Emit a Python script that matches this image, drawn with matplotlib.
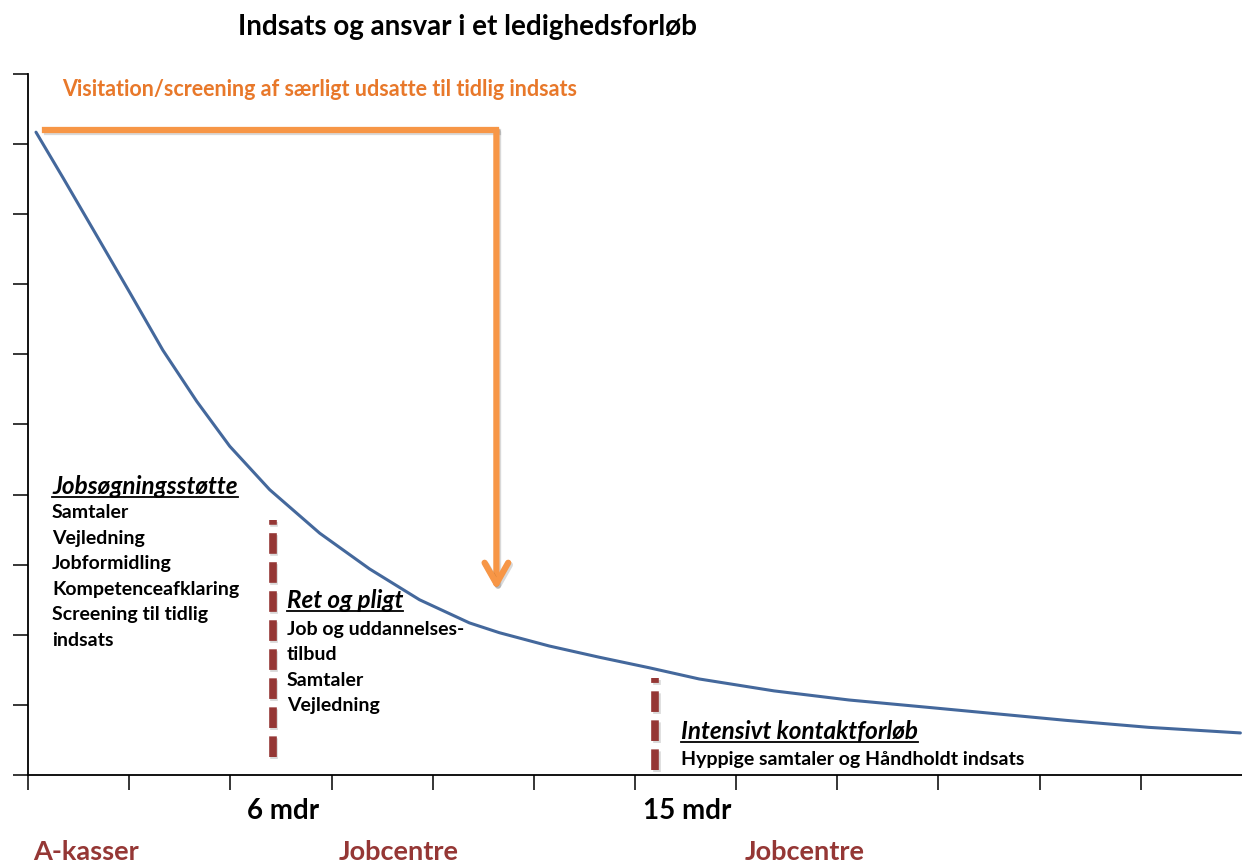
import matplotlib

matplotlib.use("Agg")
import matplotlib.pyplot as plt  # noqa: E402
import matplotlib.patheffects as pe  # noqa: E402
from matplotlib.lines import Line2D  # noqa: E402

W, H = 1242, 864
FONT = ["Lato", "DejaVu Sans"]

# indsatskurve over ledighedsforløbet (x: tid, y: indsats)
curve_x = [0.079, 0.346, 0.681, 1.007, 1.333, 1.668, 1.994, 2.389, 2.883, 3.376,
           3.870, 4.363, 4.659, 5.153, 5.647, 6.140, 6.634, 7.374, 8.115, 8.934,
           9.595, 10.257, 11.076, 11.984]
curve_y = [9.17, 8.52, 7.69, 6.88, 6.06, 5.33, 4.69, 4.07, 3.45, 2.94,
           2.50, 2.17, 2.03, 1.84, 1.68, 1.53, 1.37, 1.20, 1.07, 0.96,
           0.87, 0.78, 0.68, 0.60]

# visitation/screening: vandret streg og pil ned mod kurven
visit_x = [0.17, 4.63]
visit_y = 9.2
visit_arrow_end = 2.64

# faseskel (6 og 15 mdr)
split_x = [2.42, 6.2]
split_top = [3.64, 1.38]
split_bottom = [0.26, 0.07]

phase_heads = ["Jobsøgningsstøtte", "Ret og pligt", "Intensivt kontaktforløb"]
phase_items = [
    ["Samtaler", "Vejledning", "Jobformidling", "Kompetenceafklaring",
     "Screening til tidlig", "indsats"],
    ["Job og uddannelses-", "tilbud", "Samtaler", "Vejledning"],
    ["Hyppige samtaler og Håndholdt indsats"],
]
month_labels = ["6 mdr", "15 mdr"]
actors = ["A-kasser", "Jobcentre", "Jobcentre"]

BLUE = "#44689c"
ORANGE = "#f79646"
ORANGE_TXT = "#e8782a"
RED = "#953735"


def px(x, y):
    return x / W, 1 - y / H


shadow = [pe.SimpleLineShadow(offset=(1.2, -1.5), alpha=0.15), pe.Normal()]

fig = plt.figure(figsize=(W / 100, H / 100), dpi=100)
ax = fig.add_axes([28 / W, (H - 775) / H, (W - 28) / W, (775 - 74) / H])
ax.set_xlim(0, 12)
ax.set_ylim(0, 10)
for s in ["top", "right"]:
    ax.spines[s].set_visible(False)
for s in ["left", "bottom"]:
    ax.spines[s].set_linewidth(1.3)
ax.set_xticks(range(12))
ax.set_yticks(range(11))
ax.tick_params(direction="out", length=11, width=1.1, labelleft=False, labelbottom=False)

ax.plot(curve_x, curve_y, color=BLUE, lw=2.2, solid_capstyle="round",
        solid_joinstyle="round", clip_on=False)

ax.plot(visit_x, [visit_y, visit_y], color=ORANGE, lw=4.5,
        solid_capstyle="projecting", path_effects=shadow)
ax.annotate("", xy=(visit_x[1], visit_arrow_end), xytext=(visit_x[1], visit_y),
            arrowprops=dict(arrowstyle="->,head_length=1.5,head_width=0.85",
                            color=ORANGE, lw=4.5, shrinkA=0, shrinkB=0,
                            path_effects=shadow))

for x, top, bot in zip(split_x, split_top, split_bottom):
    ax.plot([x, x], [bot, top], color=RED, lw=5.5, ls=(0, (2.7, 1.1)),
            dash_capstyle="butt", path_effects=shadow)

fig.text(*px(467, 27), "Indsats og ansvar i et ledighedsforløb", ha="center", va="center",
         fontsize=20, fontweight="bold", family=FONT)
fig.text(*px(62, 89), "Visitation/screening af særligt udsatte til tidlig indsats",
         ha="left", va="center", fontsize=15.5, fontweight="bold", color=ORANGE_TXT, family=FONT)

heads = []
head_pos = [(52, 487), (287, 601), (681, 732)]
item_pos = [(52, 513, 25.4), (287, 629, 25.5), (681, 760, 25)]
for head, items, (hx, hy), (ix, iy, step) in zip(phase_heads, phase_items, head_pos, item_pos):
    t = fig.text(*px(hx, hy), head, ha="left", va="center", fontsize=17.5,
                 fontweight="bold", fontstyle="italic", family=FONT)
    heads.append(t)
    for i, item in enumerate(items):
        fig.text(*px(ix, iy + i * step), item, ha="left", va="center", fontsize=14,
                 fontweight="bold", family=FONT)

for lab, x in zip(month_labels, [283, 687]):
    fig.text(*px(x, 811), lab, ha="center", va="center", fontsize=20,
             fontweight="bold", family=FONT)
for lab, x in zip(actors, [86, 399, 805]):
    fig.text(*px(x, 852), lab, ha="center", va="center", fontsize=19.5,
             fontweight="bold", color=RED, family=FONT)

# understregning af faseoverskrifterne
fig.canvas.draw()
for t in heads:
    bb = t.get_window_extent()
    fig.add_artist(Line2D([bb.x0, bb.x1], [bb.y0 + 2, bb.y0 + 2], transform=None,
                          color="black", lw=1.3))

fig.savefig("out.png", dpi=100)
